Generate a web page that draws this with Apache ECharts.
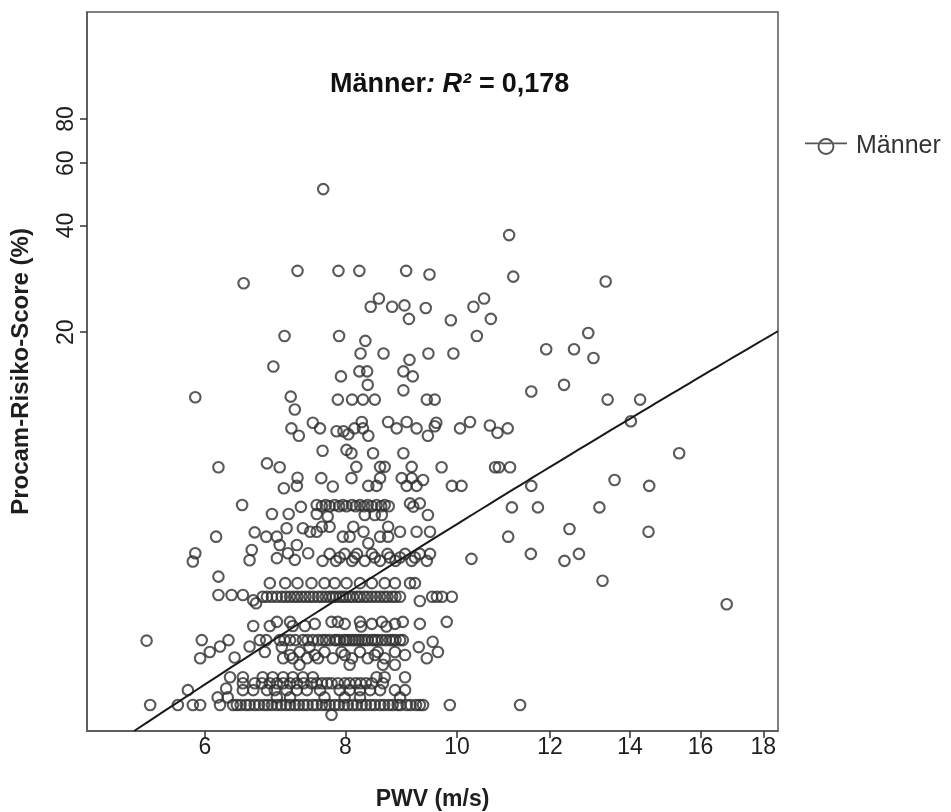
<!DOCTYPE html>
<html>
<head>
<meta charset="utf-8">
<script src="https://cdn.jsdelivr.net/npm/echarts@6/dist/echarts.min.js"></script>
<style>
  html, body { margin: 0; padding: 0; background: #ffffff; }
  #chart { width: 951px; height: 812px; }
</style>
</head>
<body>
<div id="chart"></div>
<script>
// Pulse wave velocity (m/s) and PROCAM risk score (%) for each man in the sample.
const pwv = [
  7.65, 7.26, 7.89, 8.23, 9.04, 9.47, 6.50, 8.56, 8.42, 8.79, 9.01, 9.40, 9.09,
  7.07, 7.90, 8.33, 8.25, 8.64, 9.45, 9.10, 6.91, 7.93, 8.23, 8.36, 8.99, 9.16, 8.37, 8.99,
  11.08, 11.17, 13.36, 10.55, 10.33, 9.88, 10.69, 10.40, 9.93, 12.92, 11.91, 12.57, 13.05, 11.57, 12.33,
  13.41, 14.27, 7.88, 8.11, 8.29, 8.49, 9.42, 9.57, 5.88, 7.16, 7.22,
  7.49, 7.17, 7.28, 10.67, 10.83, 11.05, 14.02, 7.60, 7.86, 7.97, 8.05, 8.15,
  8.27, 8.29, 8.38, 8.72, 8.87, 9.05, 9.23, 9.44, 9.57, 9.60, 10.06, 10.26,
  6.17, 6.82, 7.00, 7.64, 8.02, 8.10, 8.46, 8.99, 8.18,
  8.58, 8.66, 9.14, 9.70, 10.78, 10.86, 11.10, 15.37,
  7.26, 7.25, 7.06, 7.62, 7.80, 8.10, 8.38, 8.52, 8.58, 8.96,
  9.05, 9.23, 9.14, 9.35, 9.90, 10.09, 11.57, 13.59, 14.52,
  6.48, 7.31, 6.89, 7.13, 7.55, 7.55, 7.69, 7.83, 7.96, 8.11, 8.24, 8.37, 8.52,
  8.66, 9.11, 9.17, 9.29, 7.72, 8.32, 8.49, 8.61, 9.44, 11.14, 11.72, 13.20,
  7.63, 7.75, 7.90, 8.02, 8.17, 8.31, 8.44, 8.60, 8.73,
  6.14, 6.65, 6.81, 6.96, 7.10, 7.34, 7.45, 7.55, 7.00, 7.25, 7.63, 7.75, 8.13,
  8.30, 8.72, 7.96, 8.07, 8.58, 8.72, 8.93, 9.23, 9.48, 8.38, 12.46, 14.50, 11.06,
  5.88, 6.61, 7.12, 7.42, 5.85, 6.58, 6.96, 7.22,
  7.75, 7.99, 8.19, 8.44, 8.71, 9.02, 9.29, 9.48,
  7.64, 7.85, 8.11, 8.32, 8.58, 8.85, 9.14, 9.42,
  7.91, 8.15, 8.49, 8.75, 8.93, 9.20,
  10.29, 11.56, 12.34, 12.69,
  6.17, 6.17, 6.34, 6.49, 6.63, 6.67,
  6.86, 7.08, 7.26, 7.47, 8.02, 8.66, 9.11, 9.20,
  7.67, 7.83, 8.24, 8.44, 8.84,
  6.76, 6.89, 7.03, 7.15, 7.26, 7.38, 7.50, 7.63, 7.75, 7.85, 7.96,
  8.07, 8.19, 8.31, 8.44, 8.58, 8.71, 8.85, 9.52, 9.61, 9.71, 9.90,
  6.82, 6.96, 7.09, 7.21, 7.32, 7.44, 7.57, 7.69, 7.80,
  7.91, 8.01, 8.12, 8.24, 8.37, 8.51, 8.65, 8.79, 8.93,
  9.29, 13.28, 16.81,
  6.63, 6.86, 7.19, 7.37, 8.26, 8.69,
  6.96, 7.15, 7.78, 7.88, 8.24, 8.61, 8.98, 9.80,
  7.52, 7.99, 8.44, 8.84, 9.29,
  5.31, 5.96, 6.19, 6.30, 5.94, 6.06, 6.38, 6.58, 6.72, 6.81,
  7.00, 7.15, 7.34, 7.49, 7.64, 7.75, 7.86, 7.98, 8.07,
  8.17, 8.27, 8.37, 8.49, 8.61, 8.75, 8.85, 8.98, 9.53,
  7.07, 7.23, 7.41, 7.57, 7.69, 7.83, 7.91, 8.02,
  8.12, 8.22, 8.32, 8.44, 8.54, 8.68, 8.80, 8.93,
  7.03, 7.44, 9.27,
  6.79, 7.29, 7.67, 7.94, 8.24, 8.54, 8.84, 9.63,
  7.05, 7.19, 7.40, 7.57, 7.80, 8.11, 8.37, 8.66, 9.42,
  7.15, 7.52, 7.99, 8.49, 9.02,
  7.29, 8.07, 8.63, 8.84,
  6.32, 6.49, 6.76, 6.90, 7.05, 7.19, 7.34, 7.49, 8.52, 8.66, 9.02,
  6.49, 6.96, 7.25, 7.47, 7.63, 7.78, 7.99, 8.17, 8.34,
  6.65, 6.75, 6.86, 7.05, 7.15, 7.35, 7.55, 7.71, 7.88, 8.07, 8.25, 8.44, 8.63,
  5.79, 6.49, 8.41, 6.82, 7.10, 7.40, 7.91, 8.84, 6.27,
  6.63, 6.93, 7.25, 7.60, 8.07, 8.24, 8.58, 9.02,
  6.16, 6.29, 6.96, 7.15, 7.67, 7.99, 8.24, 8.93,
  5.35, 5.67, 5.85, 5.94, 6.19, 6.36, 6.41, 6.46, 6.53, 6.58, 6.65, 6.71, 6.78,
  6.83, 6.89, 6.96, 7.02, 7.09, 7.15, 7.22, 7.28, 7.35, 7.41, 7.49, 7.55, 7.63,
  7.69, 7.75, 7.83, 7.90, 7.98, 8.04, 8.12, 8.19, 8.27, 8.34, 8.42, 8.49, 8.58,
  8.65, 8.73, 8.80, 8.89, 8.94, 9.05, 9.12, 9.22, 9.29, 9.35, 9.86, 11.32,
  7.78
];
const procam = [
  50.7, 29.8, 29.8, 29.8, 29.8, 29.1, 27.5, 24.9, 23.6, 23.6, 23.8, 23.4, 21.8,
  19.5, 19.5, 18.9, 17.4, 17.4, 17.4, 16.7, 16.0, 15.0, 15.5, 15.5, 15.5, 15.0, 14.2, 13.7,
  37.6, 28.7, 27.8, 24.9, 23.6, 21.6, 21.8, 19.5, 17.4, 19.9, 17.9, 17.9, 16.9, 13.6, 14.2,
  12.9, 12.9, 12.9, 12.9, 12.9, 12.9, 12.9, 12.9, 13.1, 13.15, 12.1,
  11.1, 10.7, 10.2, 10.9, 10.4, 10.7, 11.2, 10.7, 10.5, 10.5, 10.3, 10.7,
  11.15, 10.7, 10.2, 11.15, 10.7, 11.15, 10.7, 10.2, 10.85, 11.1, 10.7, 11.15,
  8.31, 8.52, 8.31, 9.25, 9.3, 9.1, 9.1, 9.1, 8.33,
  8.33, 8.33, 8.33, 8.31, 8.31, 8.31, 8.31, 9.10,
  7.76, 7.36, 7.25, 7.74, 7.33, 7.74, 7.36, 7.36, 7.74, 7.74,
  7.36, 7.36, 7.74, 7.65, 7.36, 7.36, 7.36, 7.65, 7.36,
  6.50, 6.42, 6.13, 6.13, 6.50, 6.13, 6.50, 6.50, 6.50, 6.50, 6.50, 6.50, 6.50,
  6.50, 6.57, 6.43, 6.57, 6.03, 6.09, 6.09, 6.09, 6.09, 6.40, 6.40, 6.40,
  6.45, 6.45, 6.45, 6.45, 6.45, 6.45, 6.45, 6.45, 6.45,
  5.29, 5.44, 5.29, 5.29, 5.59, 5.59, 5.46, 5.46, 5.01, 5.01, 5.64, 5.64, 5.64,
  5.46, 5.64, 5.29, 5.29, 5.29, 5.29, 5.46, 5.46, 5.46, 5.07, 5.56, 5.46, 5.29,
  4.75, 4.85, 4.75, 4.75, 4.50, 4.54, 4.60, 4.55,
  4.73, 4.73, 4.73, 4.73, 4.73, 4.73, 4.73, 4.73,
  4.52, 4.52, 4.52, 4.52, 4.52, 4.52, 4.52, 4.52,
  4.62, 4.62, 4.62, 4.62, 4.62, 4.62,
  4.58, 4.73, 4.52, 4.73,
  4.08, 3.62, 3.62, 3.62, 3.50, 3.43,
  3.91, 3.91, 3.91, 3.91, 3.91, 3.91, 3.91, 3.91,
  3.91, 3.91, 3.91, 3.91, 3.91,
  3.58, 3.58, 3.58, 3.58, 3.58, 3.58, 3.58, 3.58, 3.58, 3.58, 3.58,
  3.58, 3.58, 3.58, 3.58, 3.58, 3.58, 3.58, 3.58, 3.58, 3.58, 3.58,
  3.58, 3.58, 3.58, 3.58, 3.58, 3.58, 3.58, 3.58, 3.58,
  3.58, 3.58, 3.58, 3.58, 3.58, 3.58, 3.58, 3.58, 3.58,
  3.48, 3.97, 3.41,
  2.96, 2.96, 2.96, 2.96, 2.95, 2.95,
  3.04, 3.04, 3.04, 3.04, 3.04, 3.04, 3.04, 3.04,
  3.00, 3.00, 3.00, 3.00, 3.00,
  2.69, 2.70, 2.59, 2.70, 2.40, 2.50, 2.41, 2.59, 2.70, 2.70,
  2.70, 2.70, 2.70, 2.70, 2.70, 2.70, 2.70, 2.70, 2.70,
  2.70, 2.70, 2.70, 2.70, 2.70, 2.70, 2.70, 2.70, 2.67,
  2.70, 2.70, 2.70, 2.70, 2.70, 2.70, 2.70, 2.70,
  2.70, 2.70, 2.70, 2.70, 2.70, 2.70, 2.70, 2.70,
  2.58, 2.58, 2.58,
  2.50, 2.50, 2.50, 2.50, 2.50, 2.50, 2.50, 2.50,
  2.40, 2.40, 2.40, 2.40, 2.40, 2.40, 2.40, 2.40, 2.40,
  2.45, 2.45, 2.45, 2.45, 2.45,
  2.30, 2.30, 2.30, 2.30,
  2.12, 2.12, 2.12, 2.12, 2.12, 2.12, 2.12, 2.12, 2.12, 2.12, 2.12,
  2.04, 2.04, 2.04, 2.04, 2.04, 2.04, 2.04, 2.04, 2.04,
  2.04, 2.04, 2.04, 2.04, 2.04, 2.04, 2.04, 2.04, 2.04, 2.04, 2.04, 2.04, 2.04,
  1.95, 1.95, 1.95, 1.95, 1.95, 1.95, 1.95, 1.95, 1.97,
  1.95, 1.95, 1.95, 1.95, 1.95, 1.95, 1.95, 1.95,
  1.86, 1.86, 1.86, 1.86, 1.86, 1.86, 1.86, 1.86,
  1.77, 1.77, 1.77, 1.77, 1.77, 1.77, 1.77, 1.77, 1.77, 1.77, 1.77, 1.77, 1.77,
  1.77, 1.77, 1.77, 1.77, 1.77, 1.77, 1.77, 1.77, 1.77, 1.77, 1.77, 1.77, 1.77,
  1.77, 1.77, 1.77, 1.77, 1.77, 1.77, 1.77, 1.77, 1.77, 1.77, 1.77, 1.77, 1.77,
  1.77, 1.77, 1.77, 1.77, 1.77, 1.77, 1.77, 1.77, 1.77, 1.77, 1.77, 1.77,
  1.66
];

const pwvTicks = [6, 8, 10, 12, 14, 16, 18];
const procamTicks = [20, 40, 60, 80];
const pwvRange = [4.68, 18.5];
const procamRange = [1.495, 160.4];

// Fitted line on log-log scale: ln(score) = a + b * ln(pwv)
const fitIntercept = -2.95;
const fitSlope = 2.04;
const rSquared = '0,178';
const groupName = 'Männer';

// PWV axis uses a power scale (exponent 0.1), the score axis a log scale.
const PWV_EXP = 0.1;
const fx = v => Math.pow(v, PWV_EXP);
const ix = t => Math.pow(t, 1 / PWV_EXP);
const fy = v => Math.log(v);
const iy = t => Math.exp(t);

const FONT = '"Liberation Sans", Arial, Helvetica, sans-serif';
const INK = '#1e1e1e';
const FRAME = '#555555';

const n = Math.min(pwv.length, procam.length);
const points = [];
for (let i = 0; i < n; i++) points.push([fx(pwv[i]), fy(procam[i])]);

// regression curve sampled from where it enters the plot to the right edge
const fitStart = Math.exp((Math.log(procamRange[0]) - fitIntercept) / fitSlope);
const fitLine = [];
const steps = 80;
for (let k = 0; k <= steps; k++) {
  const x = fitStart + (pwvRange[1] - fitStart) * k / steps;
  fitLine.push([fx(x), fitIntercept + fitSlope * Math.log(x)]);
}

const legendIcon = 'path://M0 6.2H12.8V7.8H0Z M27.2 6.2H40V7.8H27.2Z M14.8 6.2H25.2V7.8H14.8Z ' +
  'M28 10A8 8 0 1 1 12 10A8 8 0 1 1 28 10Z M26.2 10A6.2 6.2 0 1 0 13.8 10A6.2 6.2 0 1 0 26.2 10Z';

const chart = echarts.init(document.getElementById('chart'), null, { renderer: 'canvas' });
chart.setOption({
  animation: false,
  backgroundColor: '#ffffff',
  title: {
    text: '{b|' + groupName + '}{i|: R² = }{b|' + rSquared + '}',
    left: 330,
    top: 71,
    padding: 0,
    textStyle: {
      rich: {
        b: { fontFamily: FONT, fontWeight: 'bold', fontSize: 27, color: '#111' },
        i: { fontFamily: FONT, fontWeight: 'bold', fontStyle: 'italic', fontSize: 27, color: '#111' }
      }
    }
  },
  legend: {
    data: [groupName],
    left: 805,
    top: 134,
    padding: 0,
    icon: legendIcon,
    itemWidth: 42,
    itemHeight: 18,
    itemGap: 10,
    itemStyle: { color: '#2a2a2a', borderWidth: 0 },
    textStyle: { fontFamily: FONT, fontSize: 25, color: '#333333', padding: [0, 0, 0, 4] },
    selectedMode: false
  },
  grid: {
    left: 87, right: 173, top: 12, bottom: 81,
    outerBoundsMode: 'none',
    containLabel: false,
    show: true, borderColor: FRAME, borderWidth: 1.5, backgroundColor: '#ffffff'
  },
  xAxis: {
    type: 'value',
    min: fx(pwvRange[0]),
    max: fx(pwvRange[1]),
    name: 'PWV (m/s)',
    nameLocation: 'middle',
    nameGap: 57,
    nameTextStyle: { fontFamily: FONT, fontWeight: 'bold', fontSize: 23, color: INK },
    axisLine: { show: true, onZero: false, lineStyle: { color: FRAME, width: 1.5 } },
    axisTick: { show: true, length: 7, customValues: pwvTicks.map(fx), lineStyle: { color: '#333', width: 1.5 } },
    axisLabel: {
      customValues: pwvTicks.map(fx),
      formatter: v => String(Math.round(ix(v))),
      fontFamily: FONT, fontSize: 23, color: INK, margin: 5
    },
    splitLine: { show: false }
  },
  yAxis: {
    type: 'value',
    min: fy(procamRange[0]),
    max: fy(procamRange[1]),
    name: 'Procam-Risiko-Score (%)',
    nameLocation: 'middle',
    nameRotate: 90,
    nameGap: 54,
    nameTextStyle: { fontFamily: FONT, fontWeight: 'bold', fontSize: 24, color: INK },
    axisLine: { show: true, onZero: false, lineStyle: { color: FRAME, width: 1.5 } },
    axisTick: { show: true, length: 7, customValues: procamTicks.map(fy), lineStyle: { color: '#333', width: 1.5 } },
    axisLabel: {
      customValues: procamTicks.map(fy),
      formatter: v => String(Math.round(iy(v))),
      rotate: 90,
      fontFamily: FONT, fontSize: 23, color: INK, margin: 9
    },
    splitLine: { show: false }
  },
  series: [
    {
      name: groupName,
      type: 'scatter',
      data: points,
      symbol: 'circle',
      symbolSize: 10.5,
      itemStyle: { color: 'rgba(255,255,255,0)', borderColor: '#303030', borderWidth: 2.1 },
      silent: true,
      z: 2
    },
    {
      name: 'fit',
      type: 'line',
      data: fitLine,
      showSymbol: false,
      symbol: 'none',
      smooth: false,
      clip: true,
      lineStyle: { color: '#1a1a1a', width: 2 },
      silent: true,
      z: 3
    }
  ]
});
</script>
</body>
</html>
